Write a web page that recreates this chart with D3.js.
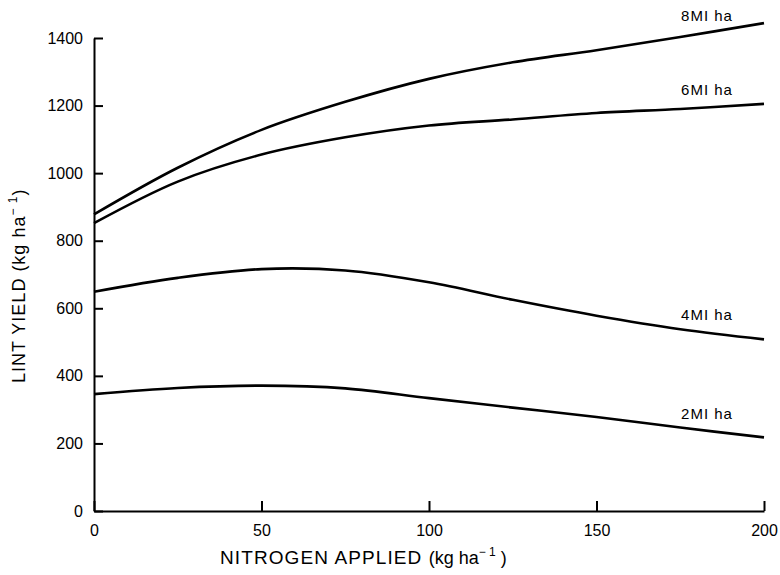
<!DOCTYPE html>
<html lang="en">
<head>
    <meta charset="UTF-8">
    <title>Lint yield vs nitrogen applied</title>
    <script src="https://d3js.org/d3.v7.min.js"></script>
    <style>
        body {
            margin: 0;
            background: #fff;
            font-family: "Liberation Sans", Arial, sans-serif;
        }
        .axis path, .axis line {
            stroke: #000;
            stroke-width: 2;
        }
        .axis text {
            font-size: 16px;
            fill: #000;
            font-family: "Liberation Sans", Arial, sans-serif;
        }
        .curve {
            fill: none;
            stroke: #000;
            stroke-width: 2.6;
        }
        .curve-label {
            font-size: 15px;
            letter-spacing: 1px;
        }
        .axis-title {
            font-size: 18px;
        }
    </style>
</head>
<body>
    <div id="chart"></div>
    <script>
        // Data
        const nitrogen = [0, 25, 50, 75, 100, 125, 150, 175, 200];
        const seriesNames = ["8MI ha", "6MI ha", "4MI ha", "2MI ha"];
        const yield8 = [878, 1016, 1128, 1211, 1279, 1328, 1364, 1403, 1444];
        const yield6 = [852, 975, 1055, 1106, 1141, 1159, 1178, 1190, 1205];
        const yield4 = [649, 690, 716, 712, 677, 625, 578, 538, 508];
        const yield2 = [346, 364, 371, 363, 334, 306, 278, 247, 218];
        const xTicks = [0, 50, 100, 150, 200];
        const yTicks = [0, 200, 400, 600, 800, 1000, 1200, 1400];

        const allSeries = [yield8, yield6, yield4, yield2];

        // Chart dimensions
        const W = 780, H = 575;
        const margin = { top: 38, right: 16, bottom: 64, left: 94 };
        const width = W - margin.left - margin.right;
        const height = H - margin.top - margin.bottom;

        const svg = d3.select("#chart")
            .append("svg")
            .attr("width", W)
            .attr("height", H);

        const g = svg.append("g")
            .attr("transform", `translate(${margin.left},${margin.top})`);

        const x = d3.scaleLinear().domain([0, 200]).range([0, width]);
        const y = d3.scaleLinear().domain([0, 1400]).range([height, 0]);

        // Axes (ticks point inward)
        g.append("g")
            .attr("class", "axis")
            .attr("transform", `translate(0,${height})`)
            .call(d3.axisBottom(x).tickValues(xTicks).tickFormat(d3.format("d"))
                .tickSizeInner(-10).tickSizeOuter(0).tickPadding(14));

        g.append("g")
            .attr("class", "axis")
            .call(d3.axisLeft(y).tickValues(yTicks).tickFormat(d3.format("d"))
                .tickSizeInner(-9).tickSizeOuter(0).tickPadding(11));

        // Curves
        const line = d3.line()
            .x((d, i) => x(nitrogen[i]))
            .y(d => y(d))
            .curve(d3.curveCatmullRom.alpha(0.5));

        g.selectAll(".curve")
            .data(allSeries)
            .enter()
            .append("path")
            .attr("class", "curve")
            .attr("d", line);

        // Labels sit just above each curve near the right end
        const labelN = 183;
        const interp = (vals, n) => {
            const i = Math.min(d3.bisectRight(nitrogen, n), nitrogen.length - 1);
            const t = (n - nitrogen[i - 1]) / (nitrogen[i] - nitrogen[i - 1]);
            return vals[i - 1] + t * (vals[i] - vals[i - 1]);
        };

        g.selectAll(".curve-label")
            .data(allSeries)
            .enter()
            .append("text")
            .attr("class", "curve-label")
            .attr("text-anchor", "middle")
            .attr("x", x(labelN))
            .attr("y", d => y(interp(d, labelN)) - 12)
            .text((d, i) => seriesNames[i]);

        // Axis titles
        const xTitle = svg.append("text")
            .attr("class", "axis-title")
            .attr("x", 220)
            .attr("y", 564);
        xTitle.append("tspan").style("font-size", "19px").style("letter-spacing", "1.1px").text("NITROGEN APPLIED ");
        xTitle.append("tspan").text("(kg ha");
        xTitle.append("tspan").style("font-size", "12px").attr("dy", -8).text("\u2212 1");
        xTitle.append("tspan").attr("dy", 8).text(" )");

        const yTitle = svg.append("text")
            .attr("class", "axis-title")
            .style("letter-spacing", "1px")
            .attr("transform", "translate(25,383) rotate(-90)");
        yTitle.append("tspan").text("LINT YIELD (kg ha");
        yTitle.append("tspan").style("font-size", "12px").attr("dy", -8).text("\u2212 1");
        yTitle.append("tspan").attr("dy", 8).text(")");
    </script>
</body>
</html>
